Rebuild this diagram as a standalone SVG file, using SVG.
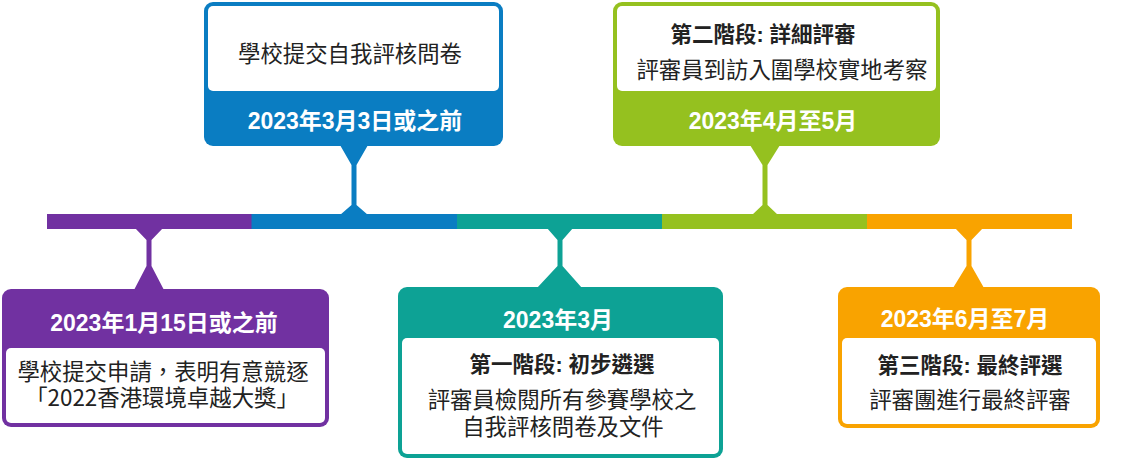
<svg xmlns="http://www.w3.org/2000/svg" width="1140" height="459" viewBox="0 0 1140 459">
<style>
.date{font-family:"Liberation Sans","Noto Sans CJK TC",sans-serif;font-weight:bold;font-size:23px;fill:#fff;text-anchor:middle}
.sub{font-family:"Liberation Sans","Noto Sans CJK TC",sans-serif;font-weight:bold;font-size:21.5px;fill:#222;text-anchor:middle}
.body{font-family:"Noto Sans CJK TC","Liberation Sans",sans-serif;font-size:22.4px;fill:#222;text-anchor:middle}
.purple{fill:#7131A1}.blue{fill:#0A7DC2}.teal{fill:#0DA295}.green{fill:#95C11F}.orange{fill:#F9A300}
.inner{fill:#fff}
</style>
<rect width="1140" height="459" fill="#fff"/>
<g id="timeline">
<rect class="purple" x="47" y="214" width="205" height="15"/>
<rect class="blue" x="251.5" y="214" width="206" height="15"/>
<rect class="teal" x="457" y="214" width="205" height="15"/>
<rect class="green" x="662" y="214" width="205" height="15"/>
<rect class="orange" x="867" y="214" width="205" height="15"/>
</g>
<g id="connectors">
<polygon class="purple" points="135,228 163,228 151.5,240 151.5,266 164,290 134,290 146.5,266 146.5,240"/>
<polygon class="blue" points="340,145 368,145 356.5,165 356.5,205 368,215 340,215 351.5,205 351.5,165"/>
<polygon class="teal" points="547,228 573,228 562.5,240 562.5,266 582,288 537,288 557.5,266 557.5,240"/>
<polygon class="green" points="750,145 780,145 767.5,165 767.5,205 778,215 752,215 762.5,205 762.5,165"/>
<polygon class="orange" points="955,228 983,228 971.5,240 971.5,266 984,288 953,288 966.5,266 966.5,240"/>
</g>
<g id="node-jan">
<rect class="purple" x="2" y="289" width="327" height="138" rx="9"/>
<rect class="inner" x="6" y="348" width="319" height="75" rx="5"/>
<text class="date" x="164" y="331">2023年1月15日或之前</text>
<text class="body"><tspan x="163" y="380">學校提交申請，表明有意競逐</tspan><tspan x="162" y="406">「2022香港環境卓越大獎」</tspan></text>
</g>
<g id="node-mar3">
<rect class="blue" x="204" y="2" width="299" height="144" rx="9"/>
<rect class="inner" x="208" y="6" width="291" height="85" rx="5"/>
<text class="body" x="350" y="62">學校提交自我評核問卷</text>
<text class="date" x="355" y="129">2023年3月3日或之前</text>
</g>
<g id="node-mar">
<rect class="teal" x="398" y="287" width="325" height="171" rx="9"/>
<rect class="inner" x="402" y="338" width="317" height="116" rx="5"/>
<text class="date" x="558" y="328">2023年3月</text>
<text class="sub" x="562" y="372">第一階段: 初步遴選</text>
<text class="body"><tspan x="562" y="408">評審員檢閱所有參賽學校之</tspan><tspan x="563" y="435">自我評核問卷及文件</tspan></text>
</g>
<g id="node-apr">
<rect class="green" x="613" y="2" width="327" height="144" rx="9"/>
<rect class="inner" x="617" y="6" width="319" height="85" rx="5"/>
<text class="sub" x="763" y="42">第二階段: 詳細評審</text>
<text class="body" x="782" y="78">評審員到訪入圍學校實地考察</text>
<text class="date" x="773" y="129">2023年4月至5月</text>
</g>
<g id="node-jun">
<rect class="orange" x="838" y="287" width="262" height="141" rx="9"/>
<rect class="inner" x="842" y="338" width="254" height="86" rx="5"/>
<text class="date" x="965" y="327">2023年6月至7月</text>
<text class="sub" x="970" y="373">第三階段: 最終評選</text>
<text class="body" x="970" y="408">評審團進行最終評審</text>
</g>
</svg>
